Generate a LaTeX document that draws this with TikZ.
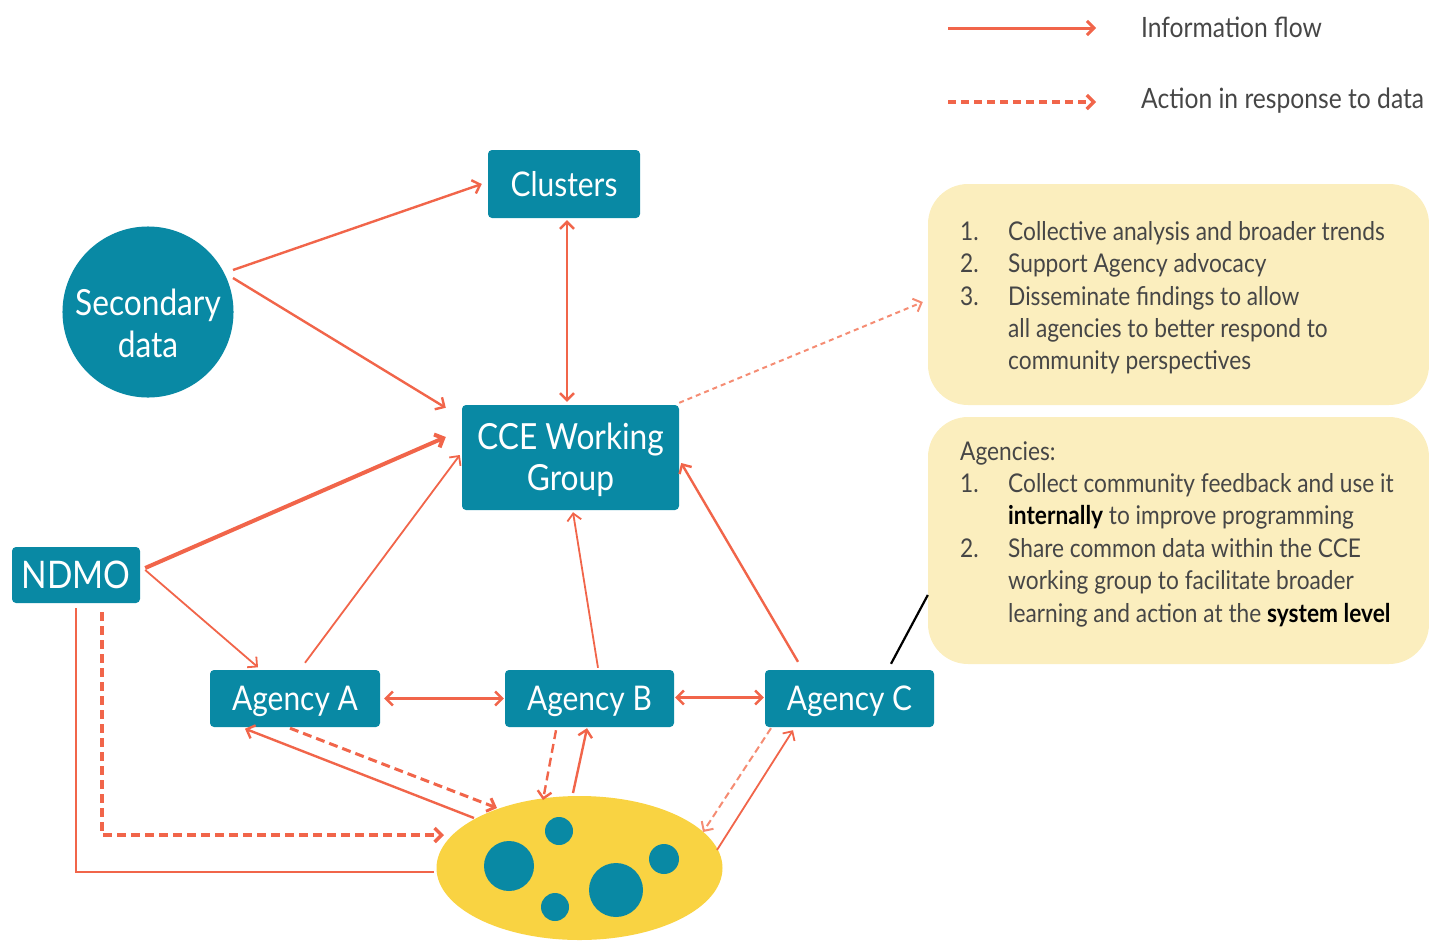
\documentclass[tikz,border=0pt]{standalone}
\usepackage{fontspec}
\setmainfont{Lato}[FakeStretch=0.88]
\usetikzlibrary{arrows.meta,shapes.geometric,calc}
\definecolor{cteal}{RGB}{9,137,164}
\definecolor{corange}{RGB}{241,101,74}
\definecolor{clight}{RGB}{245,140,115}
\definecolor{cyellow}{RGB}{249,211,66}
\definecolor{cpale}{RGB}{251,238,190}
\definecolor{ctext}{RGB}{70,70,70}
\newcommand\nbox[1]{\makebox[48pt][l]{#1}}
\tikzset{
  >={Straight Barb[length=7pt,width=14pt]},
  tealbox/.style={fill=cteal, rounded corners=4pt, inner sep=0pt, text=white,
    font=\fontsize{34}{41}\selectfont, align=center},
  onebox/.style={tealbox, text height=24pt, text depth=0pt},
  palebox/.style={fill=cpale, rounded corners=40pt, inner sep=0pt},
  boxtxt/.style={inner sep=0pt, align=left, text=ctext, font=\fontsize{25.8}{32.4}\selectfont},
  flow/.style={draw=corange, line width=2.4pt, ->},
  thinflow/.style={draw=corange, line width=1.8pt, ->},
  action/.style={draw=corange, line width=3pt, dash pattern=on 9pt off 5pt, ->},
  thinaction/.style={draw=clight, line width=2pt, dash pattern=on 7pt off 4pt, ->},
}
\begin{document}
\begin{tikzpicture}[x=1pt,y=-1pt]
\useasboundingbox (0,0) rectangle (1429,940);

% legend
\coordinate (la) at (948,28);
\coordinate (lb) at (1096,28);
\coordinate (lc) at (948,102);
\coordinate (ld) at (1096,102);
\draw[flow, line width=3pt] (la) -- (lb);
\draw[action, line width=3.2pt, dash pattern=on 8pt off 5pt] (lc) -- (ld);
\node[anchor=base west, inner sep=0pt, text=ctext, font=\fontsize{28}{30}\selectfont] (lt1) at (1141,37) {Information flow};
\node[anchor=base west, inner sep=0pt, text=ctext, font=\fontsize{28}{30}\selectfont] (lt2) at (1141,108) {Action in response to data};

% pale boxes
\node[palebox, minimum width=501pt, minimum height=221pt] (b1) at (1178.5,294.5) {};
\node[palebox, minimum width=501pt, minimum height=247pt] (b2) at (1178.5,540.5) {};
\node[boxtxt, anchor=north west] (t1) at (960,221) {\nbox{1.}Collective analysis and broader trends\\
\nbox{2.}Support Agency advocacy\\
\nbox{3.}Disseminate findings to allow\\
\hspace*{48pt}all agencies to better respond to\\
\hspace*{48pt}community perspectives};
\node[boxtxt, anchor=north west] (t2) at (960,441) {Agencies:\\
\nbox{1.}Collect community feedback and use it\\
\hspace*{48pt}{\bfseries\color{black}internally} to improve programming\\
\nbox{2.}Share common data within the CCE\\
\hspace*{48pt}working group to facilitate broader\\
\hspace*{48pt}learning and action at the {\bfseries\color{black}system level}};

% main nodes
\node[onebox, minimum width=152pt, minimum height=68pt] (clu) at (564,184) {Clusters};
\node[tealbox, circle, minimum size=168pt, font=\fontsize{36}{42}\selectfont, text height=90pt, text depth=-58pt] (sec) at (148,312) {Secondary\\data};
\node[tealbox, minimum width=217pt, minimum height=105pt, font=\fontsize{36}{41}\selectfont, text height=66pt, text depth=-39pt] (cce) at (570.5,457.5) {CCE Working\\Group};
\node[onebox, minimum width=128pt, minimum height=56pt, font=\fontsize{38}{41}\selectfont, text height=27pt] (ndmo) at (76,575) {NDMO};
\node[onebox, minimum width=170pt, minimum height=57pt] (aga) at (295,698.5) {Agency A};
\node[onebox, minimum width=169pt, minimum height=57pt] (agb) at (589.5,698.5) {Agency B};
\node[onebox, minimum width=169pt, minimum height=57pt] (agc) at (849.5,698.5) {Agency C};

% community
\node[ellipse, fill=cyellow, minimum width=286pt, minimum height=144pt, inner sep=0pt] (com) at (579.5,868) {};
\fill[cteal] ($(com.center)+(-70.5,-2)$) circle (25pt);
\fill[cteal] ($(com.center)+(-20.5,-37)$) circle (14pt);
\fill[cteal] ($(com.center)+(-24.5,39)$) circle (14pt);
\fill[cteal] ($(com.center)+(36.5,22)$) circle (27pt);
\fill[cteal] ($(com.center)+(84.5,-9)$) circle (15pt);

% connectors
\draw[flow] ([shift={(85,-42)}]sec.center) -- ([shift={(-6,0)}]clu.west);
\draw[flow] ([shift={(85,-34)}]sec.center) -- ([shift={(-16,3)}]cce.north west);
\draw[flow, <->] ([shift={(3,2)}]clu.south) -- ([shift={(-3.5,-3)}]cce.north);
\draw[flow, line width=4pt] ([shift={(5,-7)}]ndmo.east) -- ([shift={(-16,-20.5)}]cce.west);
\draw[thinflow] ([shift={(5,-5)}]ndmo.east) -- ([shift={(-37,-2.5)}]aga.north);
\draw[thinflow] ([shift={(10,-7)}]aga.north) -- ([shift={(-2,-2.5)}]cce.west);
\draw[thinflow] ([shift={(8.5,-2)}]agb.north) -- ([shift={(2.5,2)}]cce.south);
\draw[flow] ([shift={(-51.5,-8)}]agc.north) -- ([shift={(2,5.5)}]cce.east);
\draw[flow, <->] ([shift={(4,0)}]aga.east) -- ([shift={(-1,0)}]agb.west);
\draw[flow, <->] ([shift={(1,-1)}]agb.east) -- ([shift={(-1,-1)}]agc.west);
\draw[flow] ([shift={(-105.5,-50)}]com.center) -- ([shift={(-50,1.5)}]aga.south);
\draw[action] ([shift={(-5,1)}]aga.south) -- ([shift={(-82.5,-60)}]com.center);
\draw[action, line width=3.4pt] ([shift={(26,9)}]ndmo.south) |- ([shift={(-135.5,-33)}]com.center);
\draw[flow, -] ([shift={(0,5)}]ndmo.south) |- ([shift={(-2.5,4)}]com.west);
\draw[action, line width=2.4pt] ([shift={(-33.5,3)}]agb.south) -- ([shift={(-36.5,-68)}]com.center);
\draw[flow] ([shift={(-6.5,-75)}]com.center) -- ([shift={(-2.5,1)}]agb.south);
\draw[thinaction] ([shift={(-78.5,1)}]agc.south) -- ([shift={(123.5,-36)}]com.center);
\draw[thinflow] ([shift={(137.5,-18)}]com.center) -- ([shift={(-56.5,3)}]agc.south);
\draw[thinaction, dash pattern=on 5pt off 4pt] ([shift={(0,-2)}]cce.north east) -- ([shift={(-5,7.5)}]b1.west);
\draw[black, line width=2.2pt] ([shift={(41.5,-6)}]agc.north) -- ([shift={(0,54.5)}]b2.west);
\end{tikzpicture}
\end{document}
